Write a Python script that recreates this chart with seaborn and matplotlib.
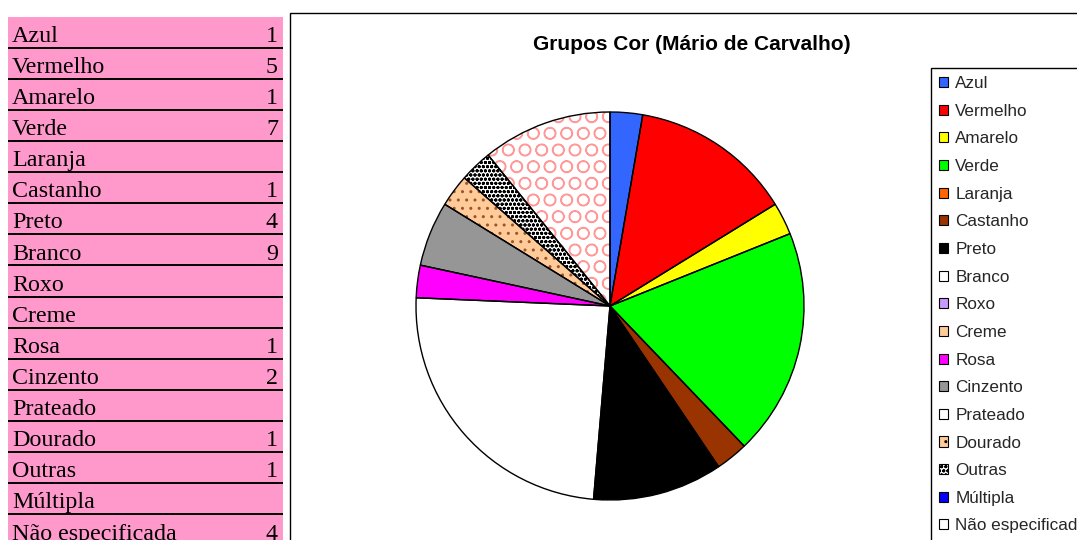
import pandas as pd
import seaborn as sns
import matplotlib.pyplot as plt
from matplotlib.patches import Patch, Rectangle

# dados da tabela / grafico
categorias = ["Azul", "Vermelho", "Amarelo", "Verde", "Laranja", "Castanho",
              "Preto", "Branco", "Roxo", "Creme", "Rosa", "Cinzento",
              "Prateado", "Dourado", "Outras", "Múltipla", "Não especificada"]
valores = [1, 5, 1, 7, 0, 1, 4, 9, 0, 0, 1, 2, 0, 1, 1, 0, 4]
titulo = "Grupos Cor (Mário de Carvalho)"

cores = ["#3366FF", "#FF0000", "#FFFF00", "#00FF00", "#FF6600", "#993300",
         "#000000", "#FFFFFF", "#CC99FF", "#FFCC99", "#FF00FF", "#969696",
         "#FFFFFF", "#FFCC99", "#FFFFFF", "#0000FF", "#FFFFFF"]
padroes = ["", "", "", "", "", "", "", "", "", "", "", "", "", "..", "oooo", "", "O"]
cor_padrao = ["none"] * 13 + ["#A0522D", "#000000", "none", "#FF9999"]

sns.set_theme(style="white")
plt.rcParams["font.family"] = ["Liberation Sans", "DejaVu Sans"]
plt.rcParams["hatch.linewidth"] = 1.0

W, H = 1077, 540
fig = plt.figure(figsize=(W / 100, H / 100), dpi=100)
fig.patch.set_facecolor("white")

# tabela rosa a esquerda
df = pd.DataFrame({"Cor": categorias, "Total": valores, "fundo": 1})
ax_t = fig.add_axes([8 / W, (540 - 545.5) / H, 275 / W, 529 / H])
sns.barplot(data=df, x="fundo", y="Cor", color="#FF99CC", width=1,
            saturation=1, edgecolor="none", ax=ax_t)
ax_t.set_xlim(0, 1)
ax_t.set_ylim(len(categorias) - 0.5, -0.5)
ax_t.axis("off")
for i in range(len(categorias) - 1):
    ax_t.axhline(i + 0.5, color="black", lw=1.4)
for i, (c, v) in enumerate(zip(categorias, valores)):
    ax_t.text(4 / 275, i + 0.31, c, family="Liberation Serif", fontsize=17.3,
              va="baseline", ha="left", color="black")
    if v:
        ax_t.text(1 - 5 / 275, i + 0.31, str(v), family="Liberation Serif",
                  fontsize=17.3, va="baseline", ha="right", color="black")

# moldura do grafico
fig.patches.append(Rectangle((290 / W, -0.1), 1, 1.1 - 13.5 / H, fill=False,
                             edgecolor="black", lw=1.0, transform=fig.transFigure))

fig.text(692 / W, 1 - 44 / H, titulo, ha="center", va="center",
         fontsize=15, fontweight="bold", color="black")

# pie
df_p = df[df["Total"] > 0]
idx = list(df_p.index)
ax_p = fig.add_axes([416 / W, (540 - 306 - 194) / H, 388 / W, 388 / H])
wedges, _ = ax_p.pie(df_p["Total"], colors=[cores[i] for i in idx],
                     startangle=90, counterclock=False,
                     wedgeprops=dict(linewidth=0))
for w, i in zip(wedges, idx):
    if padroes[i]:
        w.set_hatch(padroes[i])
        w.set_edgecolor(cor_padrao[i])
contorno, _ = ax_p.pie(df_p["Total"], startangle=90, counterclock=False,
                       wedgeprops=dict(fill=False, edgecolor="black", linewidth=1.0))
for w in list(wedges) + list(contorno):
    w.set_clip_on(False)
ax_p.set_xlim(-1, 1)
ax_p.set_ylim(-1, 1)

# legenda
handles = []
for i, c in enumerate(categorias):
    hatch = padroes[i] if padroes[i] in ("..", "oooo") else None
    handles.append(Patch(facecolor=cores[i], edgecolor="black", lw=0.8, hatch=hatch))
leg = fig.legend(handles, categorias, loc="upper left",
                 bbox_to_anchor=(931 / W, 1 - 68 / H), bbox_transform=fig.transFigure,
                 fontsize=12.3, frameon=True, fancybox=False, shadow=False,
                 framealpha=1, edgecolor="black", borderaxespad=0,
                 borderpad=0.48, handlelength=0.53, handleheight=0.53,
                 handletextpad=0.41, labelspacing=0.74)
leg.get_frame().set_linewidth(1.0)

fig.savefig("out.png", dpi=100)
